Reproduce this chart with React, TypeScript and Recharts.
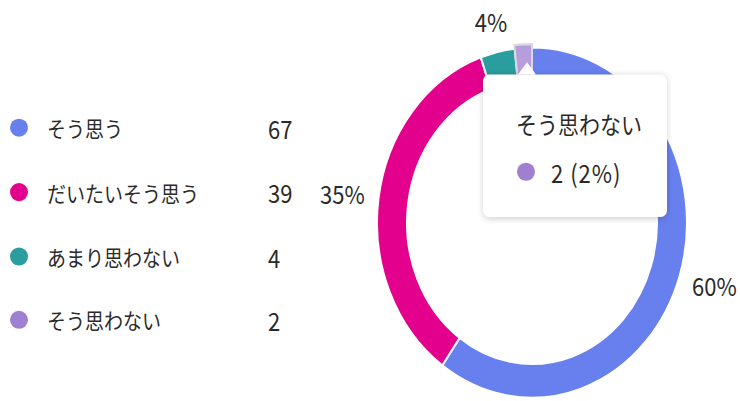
import React from 'react';
import { PieChart, Pie, Cell, Tooltip, Legend, Sector } from 'recharts';

const categories = ['そう思う', 'だいたいそう思う', 'あまり思わない', 'そう思わない'];
const counts = [67, 39, 4, 2];
const colors = ['#6780EE', '#E3008C', '#2A9D9E', '#9F80D0'];
const activeColor = '#B79DDE';
const tooltipIndex = 3;

const total = counts.reduce((a, b) => a + b, 0);
const data = categories.map((name, i) => ({ name, value: counts[i], color: colors[i] }));

const FONT = '"Noto Sans CJK JP", "Noto Sans", sans-serif';
const TEXT = '#2b2a29';
const SY = 1.13;
const W = 740;
const H = 355;
const CX = 532;
const CY = 197;
const OR = 155;
const IR = 125;
const RAD = Math.PI / 180;

const pct = (v: number) => `${Math.round((v / total) * 100)}%`;

const renderLabel = (p: any) => {
  const { cx, cy, midAngle, outerRadius, value } = p;
  if (value / total < 0.03) return null;
  const txt = pct(value);
  const c = Math.cos(-midAngle * RAD);
  const s = Math.sin(-midAngle * RAD);
  const r0 = outerRadius + 14;
  const x = cx + r0 * c + 7.5 * txt.length * c;
  const y = cy + r0 * s + 14 * s;
  return (
    <text x={x} y={y} textAnchor="middle" dominantBaseline="central" fill={TEXT} fontSize={22} fontFamily={FONT}>
      {txt}
    </text>
  );
};

const renderActive = (props: any) => (
  <Sector {...props} outerRadius={props.outerRadius + 3} fill={activeColor} stroke="#DCD8E0" strokeWidth={2} />
);

const TipContent = (props: any) => {
  const { payload } = props;
  const entry = payload && payload.length ? payload[0].payload : data[tooltipIndex];
  return (
    <div
      style={{
        position: 'relative',
        width: 184,
        height: 126,
        background: '#fff',
        borderRadius: 6,
        boxShadow: '0 1px 6px rgba(0,0,0,0.18)',
        fontFamily: FONT,
        color: TEXT,
      }}
    >
      <div
        style={{
          position: 'absolute',
          left: 35,
          top: -11,
          width: 0,
          height: 0,
          borderLeft: '9px solid transparent',
          borderRight: '9px solid transparent',
          borderBottom: '11px solid #fff',
        }}
      />
      <div style={{ position: 'absolute', left: 33, top: 44, transform: 'translateY(-50%)', fontSize: 21, whiteSpace: 'nowrap', lineHeight: 1 }}>
        {entry.name}
      </div>
      <div
        style={{
          position: 'absolute',
          left: 34,
          top: 86 - 8,
          width: 18,
          height: 16,
          borderRadius: '50%',
          background: entry.color,
        }}
      />
      <div style={{ position: 'absolute', left: 68, top: 86, transform: 'translateY(-50%)', fontSize: 22, letterSpacing: 1, whiteSpace: 'nowrap', lineHeight: 1 }}>
        {`${entry.value} (${pct(entry.value)})`}
      </div>
    </div>
  );
};

const LegendContent = () => (
  <div style={{ position: 'relative', width: 320, height: H, fontFamily: FONT, color: TEXT }}>
    {data.map((d, i) => {
      const yc = 113.3 + i * 56.6;
      return (
        <React.Fragment key={d.name}>
          <div
            style={{
              position: 'absolute',
              left: 10,
              top: yc - 8,
              width: 18,
              height: 16,
              borderRadius: '50%',
              background: d.color,
            }}
          />
          <div style={{ position: 'absolute', left: 47, top: yc, transform: 'translateY(-50%)', fontSize: 19, lineHeight: 1, whiteSpace: 'nowrap' }}>
            {d.name}
          </div>
          <div style={{ position: 'absolute', left: 268, top: yc, transform: 'translateY(-50%)', fontSize: 22, lineHeight: 1, whiteSpace: 'nowrap' }}>
            {d.value}
          </div>
        </React.Fragment>
      );
    })}
  </div>
);

export default function App() {
  return (
    <div
      style={{
        position: 'absolute',
        left: 0,
        top: 0,
        width: W,
        height: H,
        transform: `scaleY(${SY})`,
        transformOrigin: '0 0',
        background: '#fff',
      }}
    >
      <PieChart width={W} height={H} margin={{ top: 0, right: 0, bottom: 0, left: 0 }}>
        <Pie
          data={data}
          dataKey="value"
          nameKey="name"
          cx={CX}
          cy={CY}
          outerRadius={OR}
          innerRadius={IR}
          startAngle={90}
          endAngle={-270}
          stroke="#fff"
          strokeWidth={2}
          label={renderLabel}
          labelLine={false}
          activeShape={renderActive}
          isAnimationActive={false}
        >
          {data.map((d) => (
            <Cell key={d.name} fill={d.color} />
          ))}
        </Pie>
        <Legend
          content={<LegendContent />}
          wrapperStyle={{ position: 'absolute', left: 0, top: 0, width: 320, height: H }}
        />
        <Tooltip
          defaultIndex={tooltipIndex}
          active
          position={{ x: 483, y: 66 }}
          content={<TipContent />}
          cursor={false}
          isAnimationActive={false}
          wrapperStyle={{ outline: 'none' }}
        />
      </PieChart>
    </div>
  );
}
